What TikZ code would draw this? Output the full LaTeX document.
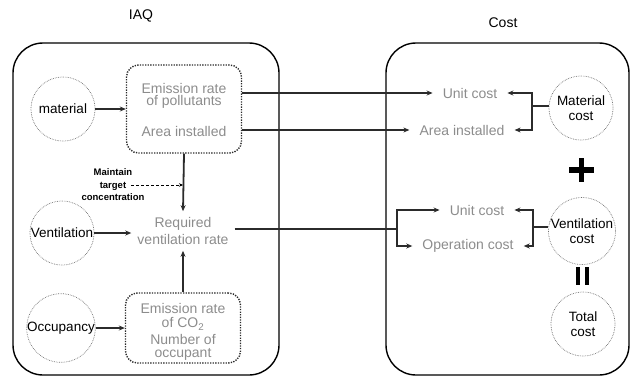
\documentclass[tikz,border=0pt]{standalone}
\usepackage{fontspec}
\setmainfont{Liberation Sans}
\usetikzlibrary{arrows.meta}
\definecolor{lineclr}{HTML}{2B2B2B}
\definecolor{txtgray}{HTML}{8C8C8C}
\definecolor{circclr}{HTML}{707070}
\begin{document}
\begin{tikzpicture}[x=1pt,y=-1pt,
  panel/.style={draw=black,line width=1.4pt,rounded corners=30pt},
  circ/.style={circle,draw=circclr,densely dotted,line width=0.7pt,minimum size=64pt,inner sep=0pt,
    font=\fontsize{13.5}{15}\selectfont,text=black,align=center},
  dbox/.style={draw=lineclr,line width=1.4pt,dash pattern=on 1.3pt off 1.3pt,rounded corners=12pt,
    minimum width=115pt,inner sep=0pt},
  gtxt/.style={text=txtgray,font=\fontsize{14}{17}\selectfont,align=center,inner sep=2pt},
  rtxt/.style={gtxt,inner xsep=10pt},
  conn/.style={draw=lineclr,line width=1.8pt},
  arr/.style={conn,-{Stealth[length=6pt,width=5pt]}},
  title/.style={font=\fontsize{14}{16}\selectfont,text=black}
]
\useasboundingbox (0,0) rectangle (631,378);

% titles
\node[title] (tiaq) at (141,16) {IAQ};
\node[title] (tcost) at (503,23) {Cost};

% panels
\draw[panel] (13,43) rectangle (279,375);
\draw[panel] (386,43) rectangle (629,375);

% left circles
\node[circ] (mat) at (63,109) {material};
\node[circ] (ven) at (62,233) {Ventilation};
\node[circ] (occ) at (61,328) {Occupancy};

% dotted boxes
\node[dbox,minimum height=88pt] (ebox) at (184,109) {};
\node[gtxt] (e1) at (184,88) {Emission rate};
\node[gtxt] (e2) at (184,102) {of pollutants};
\node[gtxt] (e3) at (184,131) {Area installed};

\node[dbox,minimum height=70pt] (cbox) at (183,328) {};
\node[gtxt] (c1) at (183,308) {Emission rate};
\node[gtxt] (c2) at (183,324) {of CO\textsubscript{2}};
\node[gtxt] (c3) at (183,339) {Number of};
\node[gtxt] (c4) at (183,354) {occupant};

% required ventilation rate
\node[gtxt,inner sep=6pt] (req) at (183,231) {Required\\ventilation rate};

% maintain label
\node[font=\bfseries\fontsize{9.5}{12.5}\selectfont,align=center,inner sep=1pt] (mt) at (113,185)
  {Maintain\\target\\concentration};
\coordinate (mtstart) at (131,185);
\coordinate (mtend) at (183,185);

% left connectors
\draw[arr] (mat.east) -- (mat.east -| ebox.west);
\draw[arr] (ven.east) -- (ven.east -| req.west);
\draw[arr] (occ.east) -- (occ.east -| cbox.west);
\draw[arr] (ebox.south) -- (req.north);
\draw[arr] (cbox.north) -- (req.south);
\draw[densely dashed,line width=0.5pt,-{Stealth[length=4pt,width=3.5pt]}] (mtstart) -- (mtend);

% right circles
\node[circ] (mc) at (581,108) {Material\\cost};
\node[circ] (vc) at (582,231) {Ventilation\\cost};
\node[circ] (tc) at (583,324) {Total\\cost};

% right texts
\node[rtxt] (uc1) at (470,93) {Unit cost};
\node[rtxt] (ai1) at (462,130) {Area installed};
\node[rtxt] (uc2) at (477,210) {Unit cost};
\node[rtxt] (oc2) at (468,246) {Operation cost};

% IAQ -> Cost connectors
\draw[arr] (ebox.east |- uc1) -- (uc1.west);
\draw[arr] (ebox.east |- ai1) -- (ai1.west);
\coordinate (jv) at (397,229);
\draw[conn] (req.east |- jv) -- (jv);
\draw[arr] (jv) |- (uc2.west);
\draw[arr] (jv) |- (oc2.west);

% brackets
\coordinate (bm) at (532,106);
\draw[arr] (mc.west |- bm) -- (bm) |- (uc1.east);
\draw[arr] (bm) |- (ai1.east);
\coordinate (bv) at (533,227);
\draw[arr] (vc.west |- bv) -- (bv) |- (uc2.east);
\draw[arr] (bv) |- (oc2.east);

% plus and equals
\draw[line width=5.5pt] (569,170) -- (594,170);
\draw[line width=5.5pt] (581.5,158) -- (581.5,182);
\draw[line width=4pt] (578,267) -- (578,285);
\draw[line width=4pt] (587,267) -- (587,285);
\end{tikzpicture}
\end{document}
